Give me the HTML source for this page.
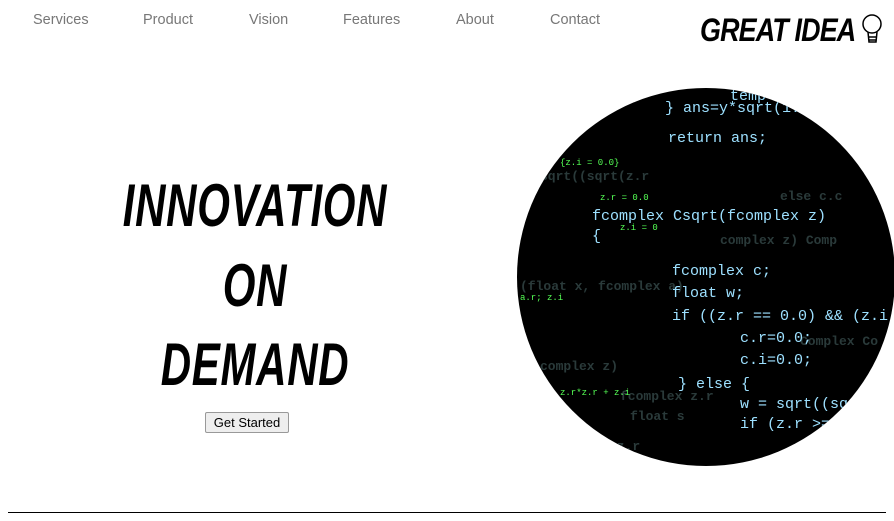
<!DOCTYPE html>
<html><head><style>
body{margin:0;width:894px;height:521px;background:#fff;position:relative;overflow:hidden;font-family:"Liberation Sans",sans-serif}
.nav{position:absolute;top:12px;font-size:14.5px;color:#777}
.h{position:absolute;left:0;width:510px;text-align:center;font-weight:bold;font-style:italic;font-size:60px;color:#000;transform:scaleX(0.7);letter-spacing:1px;line-height:60px}
.logo{position:absolute;left:700px;top:12px;font-weight:bold;font-style:italic;font-size:32px;transform:scaleX(0.84);transform-origin:left;letter-spacing:-1px}
button{position:absolute;left:205px;top:412px;width:84px;height:21px;font-family:"Liberation Sans",sans-serif;font-size:13px;background:#eee;border:1px solid #999;border-radius:2px;padding:0}
.line{position:absolute;left:8px;top:512px;width:878px;height:1px;background:#000}
</style></head><body>
<div class="nav" style="left:33px">Services</div>
<div class="nav" style="left:143px">Product</div>
<div class="nav" style="left:249px">Vision</div>
<div class="nav" style="left:343px">Features</div>
<div class="nav" style="left:456px">About</div>
<div class="nav" style="left:550px">Contact</div>
<div class="logo">GREAT IDEA</div>
<svg style="position:absolute;left:858px;top:12px" width="30" height="36"><circle cx="14" cy="12" r="9" fill="none" stroke="#000" stroke-width="1.5"/><path d="M10 20 L11 30 L18 30 L19 20 M11 25 H18 M11 28 H18" fill="none" stroke="#000" stroke-width="1.5"/></svg>
<div class="h" style="top:176px">INNOVATION</div>
<div class="h" style="top:256px">ON</div>
<div class="h" style="top:335px">DEMAND</div>
<button>Get Started</button>
<svg style="position:absolute;left:0;top:0" width="894" height="521">
<defs><clipPath id="c"><circle cx="706" cy="277" r="189"/></clipPath></defs>
<circle cx="706" cy="277" r="189" fill="#000"/>
<g clip-path="url(#c)" font-family="Liberation Mono,monospace">
<g fill="#2a3a3a" font-size="13" font-weight="bold">
<text x="540" y="180">sqrt((sqrt(z.r</text><text x="720" y="244">complex z) Comp</text>
<text x="520" y="290">(float x, fcomplex a)</text><text x="540" y="370">complex z)</text>
<text x="620" y="400">fcomplex z.r</text><text x="630" y="420">float s</text><text x="570" y="450">c.r = z.r</text>
<text x="800" y="345">Complex Co</text><text x="780" y="200">else c.c</text></g>
<g fill="#9de0ff" font-size="15">
<text x="730" y="100">temp=x/y;</text><text x="665" y="112">}  ans=y*sqrt(1.0+temp</text>
<text x="668" y="142">return ans;</text>
<text x="592" y="220">fcomplex Csqrt(fcomplex z)</text><text x="592" y="240">{</text>
<text x="672" y="275">fcomplex c;</text><text x="672" y="297">float w;</text>
<text x="672" y="320">if ((z.r == 0.0) &amp;&amp; (z.i == 0.0)) {</text>
<text x="740" y="342">c.r=0.0;</text><text x="740" y="364">c.i=0.0;</text>
<text x="678" y="388">} else {</text><text x="740" y="408">w = sqrt((sqrt(z.r</text>
<text x="740" y="428">if (z.r &gt;= 0.0)</text></g>
<g fill="#5f5" font-size="9">
<text x="560" y="165">{z.i = 0.0}</text><text x="600" y="200">z.r = 0.0</text><text x="520" y="300">a.r; z.i</text>
<text x="560" y="395">z.r*z.r + z.i</text><text x="620" y="230">z.i = 0</text></g>
</g>
</svg>
<div class="line"></div>
</body></html>
